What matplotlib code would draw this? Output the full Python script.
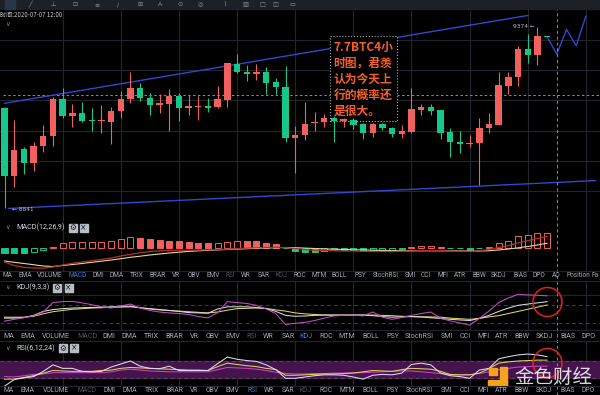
import matplotlib
matplotlib.use('Agg')
import matplotlib.pyplot as plt
from matplotlib.patches import Rectangle, Ellipse
from matplotlib.lines import Line2D
import numpy as np

plt.rcParams['font.family'] = ['Noto Sans CJK SC', 'DejaVu Sans']

# BTC 4h candles (oldest first)
opens = [9136, 8937, 9016, 8975, 9026, 9054, 9163, 9114, 9122, 9100,
         9097, 9096, 9127, 9162, 9195, 9167, 9145, 9148, 9172, 9136,
         9138, 9141, 9140, 9160, 9265, 9243, 9235, 9243, 9212, 9199,
         9049, 9057, 9091, 9095, 9106, 9099, 9101, 9088, 9062, 9088,
         9077, 9060, 9067, 9130, 9139, 9130, 9065, 9035, 9030, 9032,
         9077, 9086, 9201, 9226, 9310, 9293, 9346]
highs = [9139, 9101, 9023, 9036, 9086, 9168, 9195, 9148, 9155, 9137,
         9145, 9139, 9186, 9241, 9209, 9181, 9177, 9192, 9179, 9174,
         9171, 9165, 9201, 9269, 9294, 9262, 9265, 9256, 9223, 9260,
         9083, 9153, 9125, 9118, 9113, 9106, 9106, 9091, 9091, 9093,
         9081, 9085, 9196, 9148, 9148, 9130, 9077, 9070, 9057, 9106,
         9121, 9243, 9243, 9318, 9354, 9374, 9346]
lows = [8841, 8904, 8942, 8952, 9007, 9025, 9107, 9081, 9095, 9070,
        9064, 9031, 9108, 9152, 9158, 9116, 9122, 9070, 9099, 9116,
        9101, 9125, 9136, 9140, 9238, 9216, 9218, 9176, 9176, 9037,
        8944, 9042, 9070, 9081, 9037, 9081, 9075, 9045, 9050, 9072,
        9052, 9047, 9064, 9116, 9116, 9044, 8993, 9003, 9023, 8910,
        9064, 9086, 9177, 9201, 9269, 9263, 9344]
closes = [8937, 9013, 8975, 9026, 9054, 9163, 9114, 9122, 9099, 9097,
          9100, 9127, 9162, 9195, 9167, 9145, 9152, 9172, 9137, 9142,
          9142, 9137, 9162, 9268, 9243, 9235, 9243, 9211, 9199, 9049,
          9057, 9089, 9096, 9106, 9098, 9103, 9086, 9062, 9088, 9077,
          9060, 9069, 9132, 9139, 9128, 9064, 9035, 9031, 9033, 9078,
          9089, 9203, 9226, 9309, 9293, 9347, 9344]

# drawn trend channel and the hand-drawn projection
upper_x = [0, 54]
upper_y = [9150, 9408]
lower_x = [0.4, 61]
lower_y = [8841, 8923]
forecast_x = [56, 57, 58, 59, 60]
forecast_y = [9345, 9294, 9367, 9319, 9406]
price_grid = [9336, 9248, 9160, 9070, 8981, 8892]
cross_price = 9174

# MACD(12,26,9)
macd_hist = [-5.0, -5.3, -5.7, -4.0, -2.5, 1.0, 5.0, 5.4, 5.7, 5.9,
             6.0, 6.2, 8.5, 10.3, 10.0, 9.0, 8.0, 7.0, 6.5, 5.5,
             4.5, 4.3, 4.5, 5.7, 6.7, 6.5, 6.3, 5.0, 4.0, -0.5,
             -3.5, -4.2, -4.3, -3.2, -2.7, -2.4, -2.2, -3.0, -2.4, -2.3,
             -2.0, -1.8, 0.4, 1.5, 1.6, 0.4, -0.4, -0.5, -2.0, -0.5,
             0.4, 4.5, 7.0, 11.3, 12.7, 14.3, 14.5]
dif = [-14.5, -18, -19.8, -20.5, -20.7, -19.5, -17.5, -15.8, -14.5, -13.2,
       -12, -10.5, -8.5, -6.8, -5.3, -4, -3.3, -2.9, -2.7, -2.7,
       -2.5, -2.3, -2.1, -1.7, -1.1, -0.7, -0.3, 0, 0.2, -0.1,
       -1, -2, -2.7, -3, -3.3, -3.5, -3.5, -3.8, -4, -4,
       -4, -3.8, -3.5, -3.1, -3, -3.2, -3.5, -3.7, -3.8, -3.3,
       -2, 0, 2, 4.5, 6.8, 9, 11]
dea = [-13.5, -14.8, -16, -17.2, -18.5, -19, -18, -17, -16, -14.8,
       -13.7, -12.5, -11.2, -9.8, -8.7, -7.5, -6.5, -5.5, -4.7, -3.9,
       -3.3, -2.8, -2.4, -2, -1.6, -1.2, -0.8, -0.5, -0.2, 0,
       -0.2, -0.6, -1, -1.4, -1.7, -2, -2.2, -2.5, -2.7, -2.9,
       -3.1, -3.2, -3.3, -3.3, -3.3, -3.3, -3.3, -3.4, -3.5, -3.5,
       -3.2, -2.5, -1.5, -0.3, 1, 2.5, 4.3]

# KDJ(9,3,3)
k_vals = [37, 37, 39, 46, 59, 65, 68, 70, 71, 72,
          73, 74, 76, 76, 71, 68, 65, 62, 59, 55,
          54, 53, 67, 74, 74, 74, 72, 68, 59, 46,
          43, 44, 46, 47, 47, 47, 47, 47, 45, 42,
          40, 41, 42, 41, 38, 36, 33, 31, 29, 36,
          46, 59, 70, 79, 83, 87, 91]
d_vals = [40, 40, 40, 43, 51, 58, 62, 66, 68, 70,
          71, 72, 73, 74, 71, 67, 64, 62, 60, 58,
          56, 54, 57, 63, 68, 69, 70, 69, 64, 60,
          54, 51, 49, 47, 47, 47, 47, 47, 47, 46,
          45, 43, 42, 41, 41, 40, 37, 35, 33, 36,
          41, 45, 52, 59, 66, 73, 80]
j_vals = [27, 33, 38, 45, 57, 88, 91, 92, 87, 81,
          74, 70, 77, 83, 70, 62, 57, 54, 52, 49,
          42, 38, 55, 91, 88, 85, 79, 67, 52, 16,
          20, 23, 29, 37, 44, 46, 47, 44, 57, 40,
          33, 39, 46, 52, 57, 36, 28, 21, 14, 36,
          60, 88, 103, 115, 113, 112, 110]

# RSI(6,12,24)
rsi6 = [12, 27, 31, 34, 46, 61, 53, 53, 46, 45,
        46, 56, 63, 70, 58, 53, 52, 58, 48, 48,
        48, 48, 64, 79, 74, 71, 69, 61, 50, 30,
        30, 33, 36, 38, 38, 37, 33, 28, 37, 39,
        38, 42, 62, 65, 61, 42, 36, 34, 30, 49,
        53, 75, 80, 84, 86, 84, 80]
rsi12 = [28, 28, 32, 36, 42, 48, 47, 46, 46, 46,
         48, 49, 53, 55, 54, 53, 52, 51, 50, 49,
         49, 48, 57, 65, 62, 59, 57, 53, 50, 37,
         37, 38, 39, 40, 40, 41, 42, 45, 48, 47,
         46, 50, 53, 52, 51, 46, 39, 38, 38, 42,
         52, 65, 68, 70, 71, 72, 72]
rsi24 = [34, 33, 36, 39, 40, 43, 43, 43, 43, 43,
         43, 45, 49, 51, 49, 47, 46, 45, 45, 45,
         45, 45, 50, 55, 54, 53, 51, 48, 44, 41,
         40, 40, 41, 41, 42, 42, 43, 43, 44, 45,
         46, 47, 47, 45, 43, 41, 39, 38, 38, 41,
         45, 50, 53, 56, 57, 58, 58]

tabs_a = ['MA', 'EMA', 'VOLUME', 'MACD', 'DMI', 'DMA', 'TRIX', 'BRAR', 'VR', 'OBV',
          'EMV', 'RSI', 'WR', 'SAR', 'KDJ', 'ROC', 'MTM', 'BOLL', 'PSY', 'StochRSI',
          'SMI', 'CCI', 'MFI', 'ATR', 'BBW', 'SKDJ', 'BIAS', 'DPO', 'AO', 'Position']
tabs_b = tabs_a[:28]
note_lines = ['7.7BTC4小', '时图，君羡', '认为今天上', '行的概率还', '是很大。']

# ---- layout (screen pixels) ----
W, H = 600, 395
STEP, X0 = 9.69, 4.5
XMIN, XMAX = -X0 / STEP, (W - X0) / STEP
RED, GREEN, BLUE = '#f0605e', '#17c78a', '#3048d0'
GRID, BG = '#22252d', '#000000'
TXT, DIM, ACT = '#a3a8b2', '#4d525c', '#3b7be0'

fig = plt.figure(figsize=(W / 100, H / 100), dpi=100)
fig.patch.set_facecolor(BG)


def fy(y):
    return 1 - y / H


def panel(top, bottom, ylim):
    a = fig.add_axes([0, fy(bottom), 1, (bottom - top) / H])
    a.set_facecolor(BG)
    a.set_xlim(XMIN, XMAX)
    a.set_ylim(*ylim)
    a.set_xticks([])
    a.set_yticks([])
    for s in a.spines.values():
        s.set_visible(False)
    for gx in range(6, 61, 6):
        a.axvline(gx, color=GRID, lw=0.8, zorder=0)
    return a


idx = np.arange(len(opens))
o, h, l, c = map(np.array, (opens, highs, lows, closes))

# main price panel
ax = panel(9, 217, (8816, 9427))
for gy in price_grid:
    ax.axhline(gy, color=GRID, lw=0.8, zorder=0)
ax.hlines(cross_price, -0.15, XMAX, colors='#8a8d95', lw=0.7,
          linestyles=(0, (2.5, 2.5)), zorder=1)
ax.plot(upper_x, upper_y, color=BLUE, lw=1.0, zorder=2)
ax.plot(lower_x, lower_y, color=BLUE, lw=1.0, zorder=2)
ax.plot(forecast_x, forecast_y, color=BLUE, lw=1.0, zorder=2)
col = np.where(c >= o, RED, GREEN)
ax.vlines(idx, l, h, colors=col, lw=0.8, zorder=4)
ax.bar(idx, np.maximum(np.abs(c - o), 4), bottom=np.minimum(o, c),
       width=0.66, color=col, zorder=5)

ax.add_patch(Rectangle((330 / W, fy(120.7)), 67 / W, 84.7 / H,
                       transform=fig.transFigure, facecolor=BG,
                       edgecolor='#a8a8a8', ls=':', lw=0.8, zorder=3))
for n, line in enumerate(note_lines):
    ax.text(333.5 / W, fy(47 + 16 * n), line, transform=fig.transFigure,
            fontsize=8.5, fontweight='bold', color='#f4602c',
            va='center', ha='left', zorder=6)

fig.text(0, fy(15), '时间:2020-07-07 12:00', fontsize=4.4, color='#c6c8ce',
         va='center', ha='left')
fig.text(8 / W, fy(25), '∨', fontsize=4.5, color='#8a8f99', va='center',
         ha='center', family='DejaVu Sans')
fig.text(12 / W, fy(209), '← 8841', fontsize=4.2, color='#b4b6bc',
         va='center', ha='left', family='DejaVu Sans')
fig.text(513 / W, fy(26), '9374 ←', fontsize=4.2, color='#b4b6bc',
         va='center', ha='left', family='DejaVu Sans')

# MACD panel
axm = panel(216, 271, (-23.5, 31.5))
hist = np.array(macd_hist)
rising = np.r_[False, np.diff(hist) > 0]
hcol = np.where(hist >= 0, RED, GREEN)
face = np.where(rising, BG, hcol)
draw_h = np.where(np.abs(hist) < 0.9, np.sign(hist) * 0.9, hist)
axm.bar(idx, draw_h, width=0.62, color=face, edgecolor=hcol, linewidth=0.7,
        zorder=3)
axm.plot(idx, dea, color='#e4da96', lw=0.8, zorder=4)
axm.plot(idx, dif, color='#b3302c', lw=0.9, zorder=4)

# KDJ panel
axk = panel(281, 330, (-2, 158.7))
axk.axhline(113, color=GRID, lw=0.8, zorder=0)
for lv in (80, 20):
    axk.axhline(lv, color='#3b3e48', lw=0.7, ls=(0, (4, 3)), zorder=1)
axk.plot(idx, d_vals, color='#e0d45c', lw=0.75, zorder=3)
axk.plot(idx, k_vals, color='#d8d8e2', lw=0.75, zorder=3)
axk.plot(idx, j_vals, color='#c44ec6', lw=0.75, zorder=3)

# RSI panel
axr = panel(341, 386, (12.2, 116.2))
axr.axhspan(30, 70, color='#45144d', zorder=0)
for lv in (70, 30):
    axr.axhline(lv, color='#5a4862', lw=0.7, ls=(0, (4, 3)), zorder=1)
axr.plot(idx, rsi24, color='#c848c8', lw=0.75, zorder=3)
axr.plot(idx, rsi12, color='#e0d45c', lw=0.75, zorder=3)
axr.plot(idx, rsi6, color='#dcdce6', lw=0.75, zorder=3)

for y in (271, 281, 330, 341, 386):
    fig.add_artist(Line2D([0, 1], [fy(y), fy(y)], transform=fig.transFigure,
                          color=GRID, lw=0.8))

# toolbar strip at the very top
fig.add_artist(Rectangle((0, fy(9)), 1, 9 / H, transform=fig.transFigure,
                         color='#1d2027', zorder=1))
fig.add_artist(Rectangle((5 / W, fy(9)), 10 / W, 9 / H,
                         transform=fig.transFigure, color='#2b3548', zorder=1))
for tx, g in [(30, '╱'), (53, '⊥'), (75, '⊡'), (97, '≡'), (118, '∕'),
              (140, '⊞'), (160, 'A'), (180, '⊙'), (200, '◎'), (225, '⌇'),
              (245, '▥'), (262, '□'), (275, '◫'), (292, '▭')]:
    fig.text(tx / W, fy(4.5), g, fontsize=4.5, color='#8c909a', va='center',
             ha='center', family='DejaVu Sans', zorder=2)


def tab_row(y, names, centers, size, active, dim):
    for name, cx in zip(names, centers):
        colr = ACT if name == active else (DIM if name in dim else TXT)
        fig.text(cx / W, fy(y), name, fontsize=size, color=colr,
                 va='center', ha='center', family=['Roboto', 'DejaVu Sans'])


centers_a = [7.5, 25, 50, 78, 98.5, 117, 136.5, 157.5, 176, 193.5,
             212.7, 230, 246, 263.5, 281.5, 300, 319.5, 339.5, 360.5, 385.5,
             410, 426, 443, 460, 479, 499, 520, 539, 556, 578]
centers_b = [8.5, 27.5, 56, 87, 109, 129.5, 151.5, 174.5, 194.5, 212.5,
             232.5, 252, 268.5, 288, 306, 326, 347, 370.5, 392.5, 419.5,
             447, 465, 483, 501.5, 521.5, 544, 567.5, 588]
tab_row(275.5, tabs_a, centers_a, 4.7, 'MACD', ('RSI', 'KDJ'))
fig.text(592 / W, fy(275.5), 'Fa', fontsize=4.7, color=TXT, va='center',
         ha='left', family=['Roboto', 'DejaVu Sans'])
tab_row(336, tabs_b, centers_b, 5.1, 'KDJ', ('MACD', 'RSI'))
tab_row(390.8, tabs_b, centers_b, 4.9, 'RSI', ('MACD', 'KDJ'))


def header(y, label, gear_x, close_x):
    fig.text(8 / W, fy(y), '∨', fontsize=4.5, color='#8a8f99', va='center',
             ha='center', family='DejaVu Sans')
    fig.text(16 / W, fy(y), label, fontsize=5.2, color='#d2d5dc', va='center',
             ha='left', family=['Roboto', 'DejaVu Sans'])
    for bx, sym in ((gear_x, '⚙'), (close_x, '×')):
        fig.add_artist(Rectangle((bx / W, fy(y + 4)), 8 / W, 8 / H,
                                 transform=fig.transFigure, color='#b9bdc6'))
        fig.text((bx + 4) / W, fy(y), sym, fontsize=5.5, color='#15171c',
                 va='center', ha='center', family='DejaVu Sans')


header(227.5, 'MACD(12,26,9)', 68.5, 79.5)
header(287.5, 'KDJ(9,3,3)', 53, 64.5)
header(348, 'RSI(6,12,24)', 58.5, 70)

# overlay: dashed "now" line, circles, watermark
ov = fig.add_axes([0, 0, 1, fy(9)])
ov.set_xlim(XMIN, XMAX)
ov.set_ylim(0, 1)
ov.axis('off')
ov.axvline(57, color='#8a8d95', lw=0.7, ls=(0, (3, 3)))

for cy in (302, 363):
    fig.add_artist(Ellipse((547.5 / W, fy(cy)), 29 / W, 29 / H,
                           transform=fig.transFigure, fill=False,
                           edgecolor='#e3221e', lw=1.1))

LOGO = '#f5a31c'
for (x0, y0, x1, y1) in ((489, 368, 497, 375), (500, 367, 507, 386),
                         (488, 380, 507, 386)):
    fig.add_artist(Rectangle((x0 / W, fy(y1)), (x1 - x0) / W, (y1 - y0) / H,
                             transform=fig.transFigure, color=LOGO))
fig.text(514 / W, fy(377), '金色财经', fontsize=14, color='#ececec',
         alpha=0.92, va='center', ha='left', fontweight='medium')

fig.savefig('out.png', dpi=100, facecolor=BG)
